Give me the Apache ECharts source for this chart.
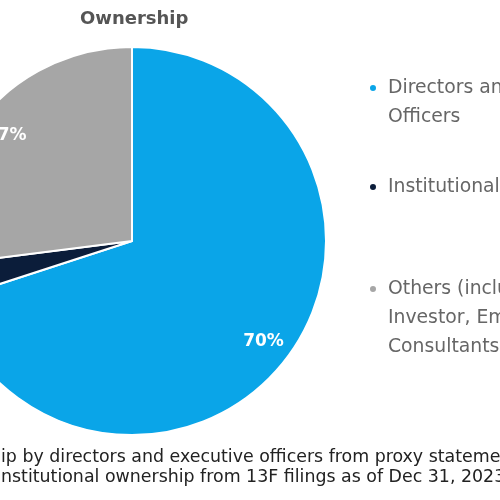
<!DOCTYPE html>
<html><head><meta charset="utf-8">
<script src="https://cdn.jsdelivr.net/npm/echarts@6/dist/echarts.min.js"></script>
<style>html,body{margin:0;padding:0;background:#fff}#c{width:500px;height:500px}</style>
</head><body><div id="c"></div>
<script>
const categories = ['Directors and Executive Officers', 'Institutional Investors', 'Others (including Angel Investor, Employees and Consultants)'];
const legendLines = [['Directors and Executive', 'Officers'], ['Institutional Investors'], ['Others (including Angel', 'Investor, Employees and', 'Consultants)']];
const values = [70, 3, 27];
const colors = ['#0aa5e8', '#0b1d3a', '#a6a6a6'];
const titleText = 'Ownership';
const footnotes = ['Note: Ownership by directors and executive officers from proxy statements.', 'Institutional ownership from 13F filings as of Dec 31, 2023.'];
const footHidden = ['Note: Ownersh', 'I'];

const FONT = '"DejaVu Sans", sans-serif';
const footFont = '17.4px ' + FONT;
const ctx = document.createElement('canvas').getContext('2d');
ctx.font = footFont;

const chart = echarts.init(document.getElementById('c'));
const LH = 29;
const iconCenters = [88, 187, 289];
const legends = categories.map((name, i) => {
  const n = legendLines[i].length;
  const lines = new Array(n - 1).fill('').concat(legendLines[i]);
  return {
    orient: 'vertical', left: 368, top: iconCenters[i] - (2 * n - 1) * LH / 2,
    itemWidth: 20, itemHeight: 8, icon: 'circle', padding: 0,
    data: [name],
    formatter: () => lines.join('\n'),
    textStyle: { fontFamily: FONT, fontSize: 18.8, color: '#666', lineHeight: LH },
    selectedMode: false
  };
});
const data = categories.map((c, i) => ({ name: c, value: values[i], itemStyle: { color: colors[i] } }));
chart.setOption({
  animation: false,
  title: { text: titleText, left: 75, top: 5, textStyle: { fontFamily: FONT, fontSize: 18, fontWeight: 'bold', color: '#555' } },
  legend: legends,
  series: [
    { type: 'pie', center: [132, 241], radius: [0, 194], startAngle: 90, clockwise: true,
      data: data, label: { show: false }, labelLine: { show: false },
      itemStyle: { borderColor: '#fff', borderWidth: 2 }, emphasis: { disabled: true } },
    { type: 'pie', center: [132, 241], radius: [130, 194], startAngle: 90, clockwise: true, silent: true,
      data: categories.map((c, i) => ({ name: c, value: values[i] })),
      itemStyle: { color: 'rgba(0,0,0,0)' }, emphasis: { disabled: true },
      label: { show: true, position: 'inside', formatter: '{c}%', color: '#fff', fontFamily: FONT, fontSize: 17, fontWeight: 'bold', offset: [-2, 4] },
      labelLine: { show: false } }
  ],
  graphic: footnotes.map((t, i) => ({
    type: 'text', left: 1 - ctx.measureText(footHidden[i]).width, top: 449 + i * 20,
    style: { text: t, font: footFont, fill: '#222' }
  }))
});
</script></body></html>
